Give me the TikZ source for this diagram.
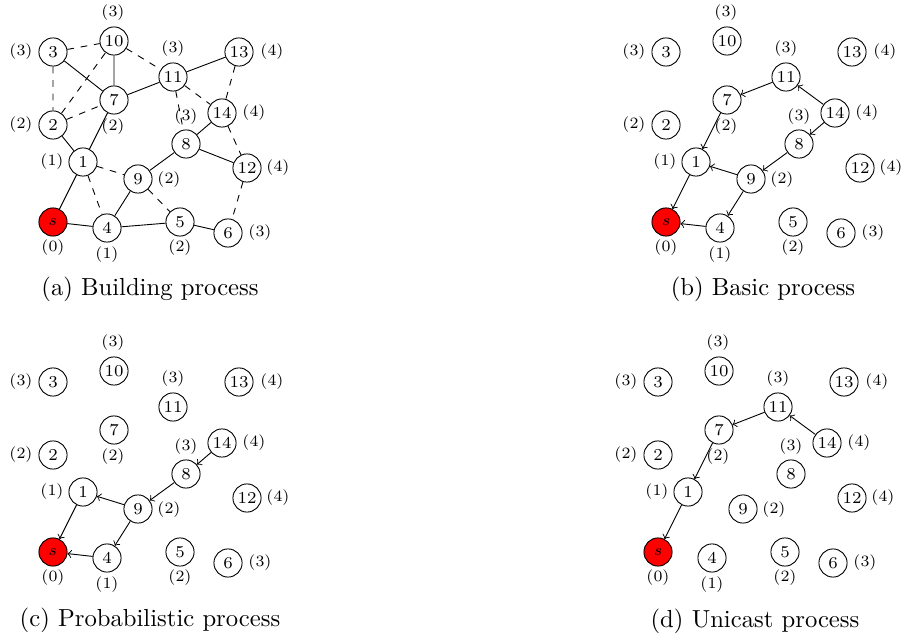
\documentclass[tikz,border=0pt]{standalone}
\usetikzlibrary{arrows}
\begin{document}
\begin{tikzpicture}[x=0.444pt,y=-0.444pt,
  vtx/.style={circle,draw,minimum size=12.5pt,inner sep=0pt,font=\fontsize{7.4}{8}\selectfont},
  src/.style={vtx,fill=red},
  lvl/.style={inner sep=0pt,font=\fontsize{7}{8}\selectfont},
  sol/.style={draw},
  dsh/.style={draw,dashed},
  arr/.style={draw,->},
  captxt/.style={inner sep=0pt,font=\fontsize{10.95}{13}\selectfont}]
\useasboundingbox (0,0) rectangle (901,637);
\newcommand\graphnodes{%
  \node[src] (ns) at (53,222) {$s$};
  \node[vtx] (n1) at (83,162) {1};
  \node[vtx] (n2) at (53,125) {2};
  \node[vtx] (n3) at (53,52) {3};
  \node[vtx] (n4) at (107,228) {4};
  \node[vtx] (n5) at (180,222) {5};
  \node[vtx] (n6) at (228,233) {6};
  \node[vtx] (n7) at (114,100) {7};
  \node[vtx] (n8) at (186,144) {8};
  \node[vtx] (n9) at (138,179) {9};
  \node[vtx] (n10) at (114,41) {10};
  \node[vtx] (n11) at (173,77) {11};
  \node[vtx] (n12) at (247,168) {12};
  \node[vtx] (n13) at (239,52) {13};
  \node[vtx] (n14) at (222,113) {14};
  \node[lvl] (ls) at (53,248) {(0)};
  \node[lvl] (l1) at (52,162) {(1)};
  \node[lvl] (l2) at (21,125) {(2)};
  \node[lvl] (l3) at (21,52) {(3)};
  \node[lvl] (l4) at (107,255) {(1)};
  \node[lvl] (l5) at (180,248) {(2)};
  \node[lvl] (l6) at (260,233) {(3)};
  \node[lvl] (l7) at (113,127) {(2)};
  \node[lvl] (l8) at (186,117) {(3)};
  \node[lvl] (l9) at (169,180) {(2)};
  \node[lvl] (l10) at (113,13) {(3)};
  \node[lvl] (l11) at (173,49) {(3)};
  \node[lvl] (l12) at (278,168) {(4)};
  \node[lvl] (l13) at (272,52) {(4)};
  \node[lvl] (l14) at (254,113) {(4)};
}
% (a) Building process
\begin{scope}[name prefix=a-]
  \graphnodes
  \path[sol] (ns) -- (n1) (ns) -- (n4) (n4) -- (n9) (n4) -- (n5) (n5) -- (n6)
    (n1) -- (n2) (n1) -- (n7) (n3) -- (n7) (n10) -- (n7) (n7) -- (n11)
    (n11) -- (n13) (n9) -- (n8) (n8) -- (n14) (n8) -- (n12);
  \path[dsh] (n3) -- (n10) (n3) -- (n2) (n2) -- (n10) (n2) -- (n7)
    (n10) -- (n11) (n11) -- (n8) (n11) -- (n14) (n13) -- (n14)
    (n14) -- (n12) (n12) -- (n6) (n1) -- (n9) (n1) -- (n4) (n9) -- (n5);
  \node[captxt] (cap) at (150,289) {(a) Building process};
\end{scope}
% (b) Basic process
\begin{scope}[shift={(613,0)},name prefix=b-]
  \graphnodes
  \path[arr] (n11) -- (n7);
  \path[arr] (n14) -- (n11);
  \path[arr] (n14) -- (n8);
  \path[arr] (n7) -- (n1);
  \path[arr] (n8) -- (n9);
  \path[arr] (n9) -- (n1);
  \path[arr] (n9) -- (n4);
  \path[arr] (n1) -- (ns);
  \path[arr] (n4) -- (ns);
  \node[captxt] (cap) at (150,289) {(b) Basic process};
\end{scope}
% (c) Probabilistic process
\begin{scope}[shift={(0,330)},name prefix=c-]
  \graphnodes
  \path[arr] (n14) -- (n8);
  \path[arr] (n8) -- (n9);
  \path[arr] (n9) -- (n1);
  \path[arr] (n9) -- (n4);
  \path[arr] (n1) -- (ns);
  \path[arr] (n4) -- (ns);
  \node[captxt] (cap) at (150,290) {(c) Probabilistic process};
\end{scope}
% (d) Unicast process
\begin{scope}[shift={(605,330)},name prefix=d-]
  \graphnodes
  \path[arr] (n14) -- (n11);
  \path[arr] (n11) -- (n7);
  \path[arr] (n7) -- (n1);
  \path[arr] (n1) -- (ns);
  \node[captxt] (cap) at (150,291) {(d) Unicast process};
\end{scope}
\end{tikzpicture}
\end{document}
